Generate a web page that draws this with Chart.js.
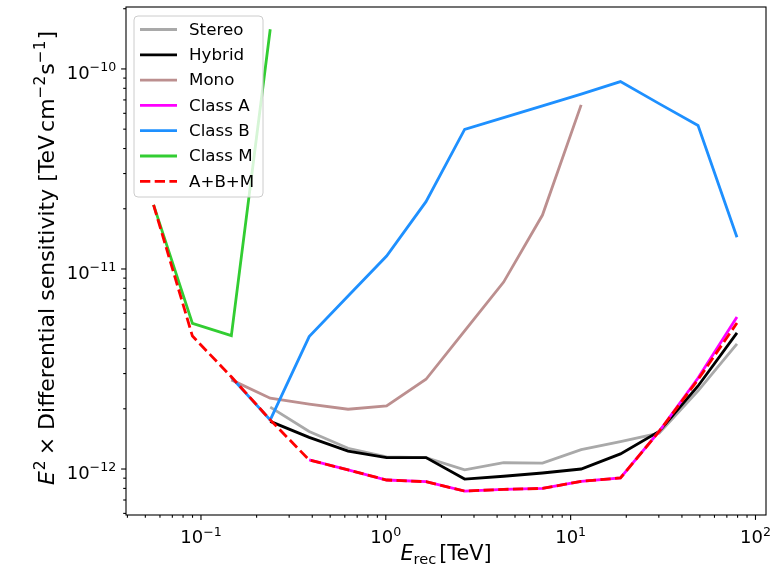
<!DOCTYPE html>
<html>
<head>
<meta charset="utf-8">
<script src="https://cdn.jsdelivr.net/npm/chart.js@4.4.1/dist/chart.umd.min.js"></script>
<style>
  html, body { margin: 0; padding: 0; background: #fff; }
  #wrap { width: 774px; height: 569px; }
</style>
</head>
<body>
<div id="wrap"><canvas id="sensChart" width="774" height="569"></canvas></div>
<script>
// reconstructed energy bins [TeV]
const energy = [0.0554, 0.0899, 0.146, 0.237, 0.385, 0.625, 1.01, 1.65,
                2.67, 4.34, 7.04, 11.4, 18.6, 30.1, 48.9, 79.4];

// E^2 x differential sensitivity [TeV cm^-2 s^-1]
const stereo = [null, null, null, 2.04e-12, 1.54e-12, 1.27e-12, 1.15e-12, 1.14e-12,
                9.9e-13, 1.075e-12, 1.07e-12, 1.25e-12, 1.37e-12, 1.51e-12, 2.46e-12, 4.22e-12];
const hybrid = [null, null, null, 1.73e-12, 1.44e-12, 1.23e-12, 1.14e-12, 1.14e-12,
                8.91e-13, 9.2e-13, 9.55e-13, 1.0e-12, 1.19e-12, 1.54e-12, 2.6e-12, 4.79e-12];
const mono = [null, null, 2.79e-12, 2.26e-12, 2.11e-12, 1.99e-12, 2.07e-12, 2.81e-12,
              4.9e-12, 8.6e-12, 1.86e-11, 6.61e-11, null, null, null, null];
const classA = [null, null, null, null, 1.11e-12, 9.9e-13, 8.81e-13, 8.64e-13,
                7.76e-13, 7.91e-13, 8.0e-13, 8.68e-13, 9.02e-13, 1.54e-12, 2.85e-12, 5.75e-12];
const classB = [null, null, 2.87e-12, 1.76e-12, 4.59e-12, 7.33e-12, 1.16e-11, 2.17e-11,
                4.99e-11, 5.71e-11, 6.54e-11, 7.48e-11, 8.64e-11, 6.71e-11, 5.21e-11, 1.44e-11];
const classM = [2.09e-11, 5.35e-12, 4.64e-12, 1.58e-10, null, null, null, null,
                null, null, null, null, null, null, null, null];
const combined = [2.09e-11, 4.62e-12, 2.89e-12, 1.76e-12, 1.11e-12, 9.9e-13, 8.81e-13, 8.64e-13,
                  7.76e-13, 7.91e-13, 8.0e-13, 8.68e-13, 9.02e-13, 1.54e-12, 2.8e-12, 5.37e-12];

const seriesLabels = ["Stereo", "Hybrid", "Mono", "Class A", "Class B", "Class M", "A+B+M"];
const seriesValues = [stereo, hybrid, mono, classA, classB, classM, combined];
const seriesColors = ["#a9a9a9", "#000000", "#bc8f8f", "#ff00ff", "#1e90ff", "#32cd32", "#ff0000"];

const xRange = [0.0393, 114];
const yRange = [5.89e-13, 2.04e-10];
const xDecades = [-2, -1, 0, 1, 2];
const yDecades = [-13, -12, -11, -10];

const FONT = '"DejaVu Sans", sans-serif';

function toPoints(values) {
    return energy
        .map((e, i) => ({ x: e, y: values[i] }))
        .filter(p => p.y !== null);
}

function logTicks(decades, min, max) {
    const ticks = [];
    decades.forEach(exp => {
        for (let m = 1; m <= 9; m++) {
            const v = m * Math.pow(10, exp);
            if (v >= min && v <= max) {
                ticks.push({ value: v, major: m === 1, exp });
            }
        }
    });
    return ticks;
}

function partFont(p) {
    return (p.italic ? "italic " : "") + p.size + "px " + FONT;
}

function richWidth(ctx, parts) {
    let w = 0;
    parts.forEach(p => {
        ctx.font = partFont(p);
        w += ctx.measureText(p.text).width + (p.gap || 0);
    });
    return w;
}

function drawRich(ctx, parts, x, y, align) {
    const w = richWidth(ctx, parts);
    let cx = align === "center" ? x - w / 2 : align === "right" ? x - w : x;
    ctx.textAlign = "left";
    ctx.textBaseline = "alphabetic";
    parts.forEach(p => {
        ctx.font = partFont(p);
        ctx.fillText(p.text, cx, y + (p.dy || 0));
        cx += ctx.measureText(p.text).width + (p.gap || 0);
    });
}

function powerLabel(exp, size) {
    const sup = exp < 0 ? "\u2212" + (-exp) : String(exp);
    return [
        { text: "10", size },
        { text: sup, size: size * 0.7, dy: -size * 0.42 }
    ];
}

// frame, ticks, tick labels, axis titles and legend
const decorPlugin = {
    id: "decor",
    afterDraw(chart) {
        const ctx = chart.ctx;
        const area = chart.chartArea;
        const xs = chart.scales.x;
        const ys = chart.scales.y;
        const majorLen = 4.9, minorLen = 2.8, pad = 4.9;

        ctx.save();
        ctx.fillStyle = "#000";
        ctx.strokeStyle = "#000";

        // ticks
        ctx.lineWidth = 1.1;
        xs.ticks.forEach(t => {
            const px = xs.getPixelForValue(t.value);
            ctx.beginPath();
            ctx.moveTo(px, area.bottom);
            ctx.lineTo(px, area.bottom + (t.major ? majorLen : minorLen));
            ctx.stroke();
            if (t.major) {
                drawRich(ctx, powerLabel(t.exp, 18), px, area.bottom + majorLen + pad + 18.5, "center");
            }
        });
        ys.ticks.forEach(t => {
            const py = ys.getPixelForValue(t.value);
            ctx.beginPath();
            ctx.moveTo(area.left, py);
            ctx.lineTo(area.left - (t.major ? majorLen : minorLen), py);
            ctx.stroke();
            if (t.major) {
                drawRich(ctx, powerLabel(t.exp, 18), area.left - majorLen - pad, py + 10, "right");
            }
        });

        // frame
        ctx.lineWidth = 1.1;
        ctx.strokeRect(area.left, area.top, area.right - area.left, area.bottom - area.top);

        // x title
        drawRich(ctx, [
            { text: "E", size: 20.8, italic: true },
            { text: "rec", size: 14.6, dy: 4, gap: 3 },
            { text: "[TeV]", size: 20.8 }
        ], (area.left + area.right) / 2, 560, "center");

        // y title
        ctx.save();
        ctx.translate(54, (area.top + area.bottom) / 2 - 3);
        ctx.rotate(-Math.PI / 2);
        drawRich(ctx, [
            { text: "E", size: 22, italic: true, gap: 1 },
            { text: "2", size: 15.4, dy: -9, gap: 5 },
            { text: "\u00d7", size: 22, gap: 7 },
            { text: "Differential sensitivity [TeV", size: 22, gap: 3 },
            { text: "cm", size: 22 },
            { text: "\u22122", size: 15.4, dy: -9, gap: 1 },
            { text: "s", size: 22 },
            { text: "\u22121", size: 15.4, dy: -9, gap: 1 },
            { text: "]", size: 22 }
        ], 0, 0, "center");
        ctx.restore();

        // legend
        const lx = area.left + 8, ly = area.top + 9, lw = 129, lh = 181, r = 4;
        ctx.beginPath();
        ctx.moveTo(lx + r, ly);
        ctx.arcTo(lx + lw, ly, lx + lw, ly + lh, r);
        ctx.arcTo(lx + lw, ly + lh, lx, ly + lh, r);
        ctx.arcTo(lx, ly + lh, lx, ly, r);
        ctx.arcTo(lx, ly, lx + lw, ly, r);
        ctx.closePath();
        ctx.fillStyle = "rgba(255,255,255,0.8)";
        ctx.fill();
        ctx.strokeStyle = "#cccccc";
        ctx.lineWidth = 1;
        ctx.stroke();

        chart.data.datasets.forEach((ds, i) => {
            const cy = ly + 13.5 + i * 25.3;
            ctx.beginPath();
            ctx.setLineDash(ds.borderDash || []);
            ctx.strokeStyle = ds.borderColor;
            ctx.lineWidth = ds.borderWidth;
            ctx.moveTo(lx + 6, cy);
            ctx.lineTo(lx + 43, cy);
            ctx.stroke();
            ctx.setLineDash([]);
            ctx.fillStyle = "#000";
            ctx.font = "16.7px " + FONT;
            ctx.textAlign = "left";
            ctx.textBaseline = "middle";
            ctx.fillText(ds.label, lx + 55, cy + 1);
        });

        ctx.restore();
    }
};

new Chart(document.getElementById("sensChart").getContext("2d"), {
    type: "line",
    data: {
        datasets: seriesLabels.map((label, i) => ({
            label,
            data: toPoints(seriesValues[i]),
            borderColor: seriesColors[i],
            backgroundColor: seriesColors[i],
            borderWidth: 2.8,
            borderDash: label === "A+B+M" ? [10.3, 4.4] : [],
            pointRadius: 0,
            tension: 0,
            fill: false,
            order: seriesLabels.length - i
        }))
    },
    options: {
        responsive: false,
        animation: false,
        devicePixelRatio: 1,
        layout: { padding: { left: 0, right: 8, top: 7, bottom: 0 } },
        plugins: {
            legend: { display: false },
            tooltip: { enabled: false }
        },
        scales: {
            x: {
                type: "logarithmic",
                min: xRange[0],
                max: xRange[1],
                grid: { display: false },
                border: { display: false },
                ticks: { display: false },
                afterBuildTicks: scale => {
                    scale.ticks = logTicks(xDecades, xRange[0], xRange[1]);
                },
                afterFit: scale => { scale.height = 54; }
            },
            y: {
                type: "logarithmic",
                min: yRange[0],
                max: yRange[1],
                grid: { display: false },
                border: { display: false },
                ticks: { display: false },
                afterBuildTicks: scale => {
                    scale.ticks = logTicks(yDecades, yRange[0], yRange[1]);
                },
                afterFit: scale => { scale.width = 126; }
            }
        }
    },
    plugins: [decorPlugin]
});
</script>
</body>
</html>
